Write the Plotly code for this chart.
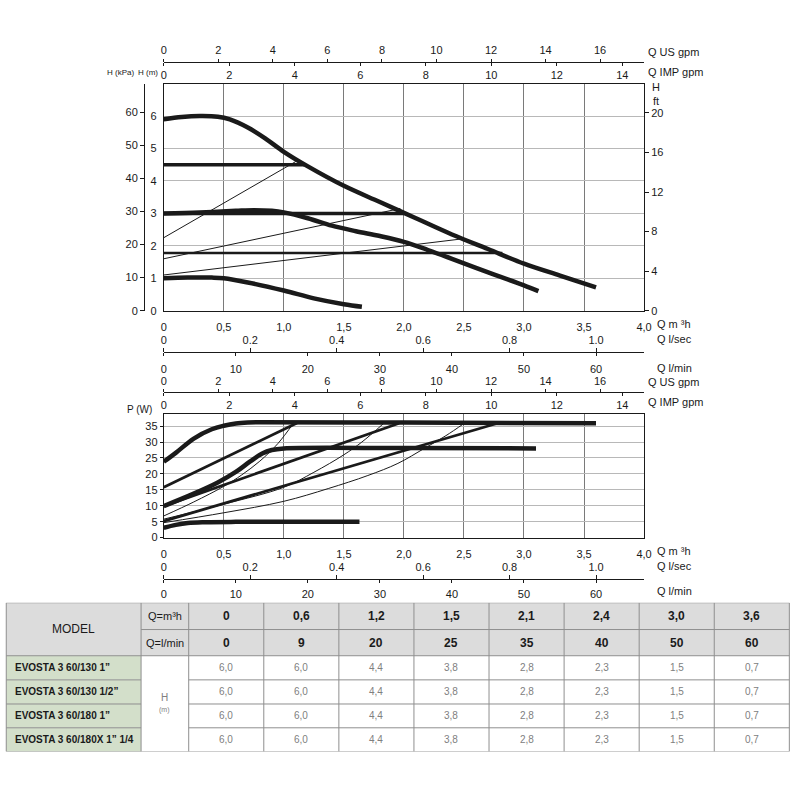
import plotly.graph_objects as go

# ---- data ----
# head curves, H (m) vs Q (m3/h)
Q_H_MAX = [0, 0.15, 0.3, 0.45, 0.55, 0.7, 0.85, 1.0, 1.2, 1.5, 1.8, 2.1, 2.4, 2.7, 3.0, 3.3, 3.6]
H_MAX = [5.9, 5.97, 6.0, 5.98, 5.9, 5.65, 5.3, 4.9, 4.45, 3.85, 3.35, 2.85, 2.35, 1.9, 1.45, 1.08, 0.72]
Q_H_MID = [0, 0.3, 0.6, 0.75, 0.9, 1.0, 1.2, 1.4, 1.6, 1.8, 2.0, 2.2, 2.4, 2.6, 2.8, 3.0, 3.12]
H_MID = [3.0, 3.03, 3.08, 3.1, 3.08, 3.03, 2.85, 2.62, 2.45, 2.3, 2.12, 1.87, 1.6, 1.32, 1.05, 0.78, 0.6]
Q_H_LOW = [0, 0.2, 0.4, 0.5, 0.7, 1.0, 1.25, 1.5, 1.65]
H_LOW = [1.0, 1.02, 1.02, 1.0, 0.87, 0.62, 0.38, 0.2, 0.12]

# constant pressure lines (H, end Q)
CP_H = [4.5, 3.0, 1.78]
CP_Q_END = [1.17, 2.0, 2.82]
CP_WIDTH = [3.5, 3.5, 2.5]
# proportional pressure lines (H at Q=0, end Q, end H)
PP_H0 = [2.25, 1.6, 1.1]
PP_Q_END = [1.1, 1.97, 2.5]
PP_H_END = [4.6, 3.15, 2.22]

# power curves, P (W) vs Q (m3/h)
Q_P_MAX = [0, 0.1, 0.25, 0.4, 0.5, 0.6, 0.7, 0.8, 2.0, 3.6]
P_MAX = [23.8, 26.6, 31.1, 34.0, 35.1, 35.8, 36.1, 36.2, 36.1, 35.9]
Q_P_MID = [0, 0.25, 0.45, 0.6, 0.72, 0.82, 0.9, 1.0, 2.0, 3.1]
P_MID = [9.9, 13.8, 17.3, 20.6, 23.9, 26.4, 27.5, 28.0, 28.1, 28.0]
Q_P_LOW = [0, 0.1, 0.2, 0.35, 0.6, 1.63]
P_LOW = [3.1, 4.0, 4.6, 4.85, 4.95, 4.95]
# constant pressure power lines (P at Q=0, end Q, end P)
CPP_P0 = [15.8, 9.9, 5.2]
CPP_Q_END = [1.11, 1.96, 2.78]
CPP_P_END = [36.0, 35.9, 35.9]
# proportional pressure power curves
Q_PP1 = [0, 0.25, 0.5, 0.65, 0.8, 0.95, 1.08]
P_PP1 = [6.8, 11.2, 16.1, 19.7, 24.0, 29.5, 35.9]
Q_PP2 = [0, 0.5, 1.0, 1.25, 1.5, 1.65, 1.83]
P_PP2 = [5.8, 10.5, 15.8, 20.5, 26.0, 30.0, 35.8]
Q_PP3 = [0, 0.5, 1.0, 1.37, 1.7, 1.95, 2.17, 2.35, 2.5]
P_PP3 = [4.7, 7.8, 11.4, 15.4, 19.5, 23.3, 28.0, 32.0, 35.8]

# axis ticks
Q_TICKS = [0, 0.5, 1.0, 1.5, 2.0, 2.5, 3.0, 3.5, 4.0]
Q_LABELS = ["0", "0,5", "1,0", "1,5", "2,0", "2,5", "3,0", "3,5", "4,0"]
US_TICKS = [0, 2, 4, 6, 8, 10, 12, 14, 16]
IMP_TICKS = [0, 2, 4, 6, 8, 10, 12, 14]
LS_TICKS = [0, 0.2, 0.4, 0.6, 0.8, 1.0]
LS_LABELS = ["0", "0.2", "0.4", "0.6", "0.8", "1.0"]
LMIN_TICKS = [0, 10, 20, 30, 40, 50, 60]
H_TICKS = [0, 1, 2, 3, 4, 5, 6]
KPA_TICKS = [0, 10, 20, 30, 40, 50, 60]
FT_TICKS = [0, 4, 8, 12, 16, 20]
P_TICKS = [0, 5, 10, 15, 20, 25, 30, 35]

# table
TBL_Q_M3H = ["0", "0,6", "1,2", "1,5", "2,1", "2,4", "3,0", "3,6"]
TBL_Q_LMIN = ["0", "9", "20", "25", "35", "40", "50", "60"]
TBL_MODELS = ["EVOSTA 3 60/130 1\u201d", "EVOSTA 3 60/130 1/2\u201d",
              "EVOSTA 3 60/180 1\u201d", "EVOSTA 3 60/180X 1\u201d 1/4"]
TBL_H = [
    ["6,0", "6,0", "4,4", "3,8", "2,8", "2,3", "1,5", "0,7"],
    ["6,0", "6,0", "4,4", "3,8", "2,8", "2,3", "1,5", "0,7"],
    ["6,0", "6,0", "4,4", "3,8", "2,8", "2,3", "1,5", "0,7"],
    ["6,0", "6,0", "4,4", "3,8", "2,8", "2,3", "1,5", "0,7"],
]

# unit conversions from m3/h
US_GPM = 4.4029
IMP_GPM = 3.6662
L_SEC = 1 / 3.6
L_MIN = 1000 / 60
KPA = 9.81
FT = 3.2808

# ---- style / layout ----
W = H = 800
FONT = "Liberation Sans, Arial, sans-serif"
INK = "#1a1a1a"
GRID_V = "#7a7a7a"
GRID_H = "#b8b8b8"
X_LEFT, X_RIGHT = 163, 650
TOP_Y0, TOP_Y1 = 84.3, 313        # pixel rows of top chart plot area
BOT_Y0, BOT_Y1 = 417.3, 541.7     # pixel rows of bottom chart plot area
H_RANGE = 7.0
P_RANGE = 38.74
Q_RANGE = 4.0


def px(x):
    return x / W


def py(y):
    return 1 - y / H


def overlay_x(over, pos_y, side, rng, tickvals, ticktext=None, ticklen=4, standoff=0):
    d = dict(overlaying=over, anchor="free", position=py(pos_y), side=side,
             range=rng, tickvals=tickvals, ticks="outside", ticklen=ticklen,
             tickcolor=INK, showline=True, linecolor=INK, linewidth=1,
             showgrid=False, zeroline=False, ticklabelstandoff=standoff,
             tickfont=dict(family=FONT, size=11, color=INK))
    if ticktext is not None:
        d["ticktext"] = ticktext
    return d


fig = go.Figure()


def line(x, y, width, xa="x", ya="y", shape="spline"):
    fig.add_trace(go.Scatter(x=x, y=y, mode="lines", xaxis=xa, yaxis=ya,
                             line=dict(color=INK, width=width, shape=shape),
                             hoverinfo="skip", showlegend=False))


# top chart: head
for i in range(3):
    line([0, PP_Q_END[i]], [PP_H0[i], PP_H_END[i]], 1, shape="linear")
for i in range(3):
    line([0, CP_Q_END[i]], [CP_H[i], CP_H[i]], CP_WIDTH[i], shape="linear")
line(Q_H_MAX, H_MAX, 4.5)
line(Q_H_MID, H_MID, 4.5)
line(Q_H_LOW, H_LOW, 4.5)

# bottom chart: power
line(Q_PP1, P_PP1, 1, "x2", "y2")
line(Q_PP2, P_PP2, 1, "x2", "y2")
line(Q_PP3, P_PP3, 1, "x2", "y2")
for i in range(3):
    line([0, CPP_Q_END[i]], [CPP_P0[i], CPP_P_END[i]], 2.8, "x2", "y2", shape="linear")
line(Q_P_MAX, P_MAX, 4.5, "x2", "y2")
line(Q_P_MID, P_MID, 4.5, "x2", "y2")
line(Q_P_LOW, P_LOW, 4.5, "x2", "y2")

# empty traces so every extra axis gets drawn
for xa, ya in [("x3", "y"), ("x4", "y"), ("x5", "y"), ("x6", "y"), ("x", "y3"), ("x", "y4"),
               ("x7", "y2"), ("x8", "y2"), ("x9", "y2"), ("x10", "y2")]:
    fig.add_trace(go.Scatter(x=[None], y=[None], xaxis=xa, yaxis=ya, showlegend=False,
                             hoverinfo="skip"))

x_dom = [px(X_LEFT), px(X_RIGHT)]
main_x = dict(domain=x_dom, range=[0, Q_RANGE], tickvals=Q_TICKS, ticktext=Q_LABELS,
              ticks="", showgrid=True, gridcolor=GRID_V, gridwidth=1, zeroline=False,
              showline=True, linecolor=INK, linewidth=1, mirror=True,
              ticklabelstandoff=6, tickfont=dict(family=FONT, size=11, color=INK))

fig.update_layout(
    width=W, height=H, margin=dict(l=0, r=0, t=0, b=0),
    paper_bgcolor="white", plot_bgcolor="rgba(0,0,0,0)", hovermode=False,
    font=dict(family=FONT, size=11, color=INK),
    xaxis=dict(main_x, anchor="y"),
    yaxis=dict(domain=[py(TOP_Y1), py(TOP_Y0)], range=[0, H_RANGE], tickvals=H_TICKS,
               ticks="", showgrid=True, gridcolor=GRID_H, zeroline=False,
               showline=True, linecolor=INK, mirror=True, anchor="x",
               ticklabelstandoff=4, tickfont=dict(family=FONT, size=11, color=INK)),
    xaxis2=dict(main_x, anchor="y2"),
    yaxis2=dict(domain=[py(BOT_Y1), py(BOT_Y0)], range=[0, P_RANGE], tickvals=P_TICKS,
                ticks="outside", ticklen=3, tickcolor=INK, showgrid=True, gridcolor=GRID_H,
                zeroline=False, showline=True, linecolor=INK, mirror=True, anchor="x2",
                tickfont=dict(family=FONT, size=11, color=INK)),
    xaxis3=overlay_x("x", 62.3, "top", [0, Q_RANGE * US_GPM], US_TICKS, ticklen=3),
    xaxis4=overlay_x("x", 62.3, "bottom", [0, Q_RANGE * IMP_GPM], IMP_TICKS, ticklen=3),
    xaxis5=overlay_x("x", TOP_Y1 + 42, "top", [0, Q_RANGE * L_SEC], LS_TICKS, LS_LABELS),
    xaxis6=overlay_x("x", TOP_Y1 + 42, "bottom", [0, Q_RANGE * L_MIN], LMIN_TICKS,
                     ticklen=3, standoff=3),
    xaxis7=overlay_x("x2", 395, "top", [0, Q_RANGE * US_GPM], US_TICKS, ticklen=3),
    xaxis8=overlay_x("x2", 395, "bottom", [0, Q_RANGE * IMP_GPM], IMP_TICKS, ticklen=3),
    xaxis9=overlay_x("x2", BOT_Y1 + 42, "top", [0, Q_RANGE * L_SEC], LS_TICKS, LS_LABELS),
    xaxis10=overlay_x("x2", BOT_Y1 + 42, "bottom", [0, Q_RANGE * L_MIN], LMIN_TICKS,
                      ticklen=3, standoff=1),
    yaxis3=dict(overlaying="y", anchor="free", position=px(143), side="left",
                range=[0, H_RANGE * KPA], tickvals=KPA_TICKS, ticks="outside", ticklen=4,
                tickcolor=INK, showline=True, linecolor=INK, showgrid=False, zeroline=False,
                tickfont=dict(family=FONT, size=11, color=INK)),
    yaxis4=dict(overlaying="y", anchor="x", side="right",
                range=[0, H_RANGE * FT], tickvals=FT_TICKS, ticks="outside", ticklen=4,
                tickcolor=INK, showline=True, linecolor=INK, showgrid=False, zeroline=False,
                tickfont=dict(family=FONT, size=11, color=INK)),
    # table area, in pixel units
    xaxis11=dict(domain=[0, 1], range=[0, W], visible=False, anchor="y11", fixedrange=True),
    yaxis11=dict(domain=[py(757.3), py(607.3)], range=[150, 0], visible=False, anchor="x11",
                 fixedrange=True),
)


# axis captions
def caption(x, y, text, size=11, xanchor="left"):
    fig.add_annotation(x=px(x), y=py(y), xref="paper", yref="paper", text=text,
                       showarrow=False, xanchor=xanchor, yanchor="middle",
                       font=dict(family=FONT, size=size, color=INK))


for axis_line, bottom, lmin_gap in [(62.3, TOP_Y1, 58), (395, BOT_Y1, 54)]:
    caption(652, axis_line - 10, "Q US gpm")
    caption(652, axis_line + 10, "Q IMP gpm")
    caption(661, bottom + 13, "Q m \u00b3h")
    caption(661, bottom + 29, "Q l/sec")
    caption(661, bottom + lmin_gap, "Q l/min")
caption(119, 73, "H (kPa)", 8, "center")
caption(147, 73, "H (m)", 8, "center")
caption(662, 88, "H", 11, "center")
caption(662, 102, "ft", 11, "center")
caption(138, 413, "P (W)", 10, "center")

# ---- table ----
TBL_X = [3.3, 140, 188.3] + [188.3 + 76.125 * (i + 1) for i in range(len(TBL_Q_M3H))]
TBL_Y = [0, 27, 53.4, 77.7, 102, 126, 150]
BORDER = "#8f8f8f"
HEAD_BG = "#dcdcdc"
MODEL_BG = "#d3dfca"


def rect(x0, y0, x1, y1, fill=None, lw=0):
    fig.add_shape(type="rect", xref="x11", yref="y11", x0=x0, y0=y0, x1=x1, y1=y1,
                  fillcolor=fill, line=dict(color=BORDER, width=lw), layer="below")


def seg(x0, y0, x1, y1):
    fig.add_shape(type="line", xref="x11", yref="y11", x0=x0, y0=y0, x1=x1, y1=y1,
                  line=dict(color=BORDER, width=1))


def cell_text(x, y, text, size, color=INK, bold=False, xanchor="center"):
    fig.add_annotation(x=x, y=y, xref="x11", yref="y11", showarrow=False,
                       text=f"<b>{text}</b>" if bold else text, xanchor=xanchor,
                       font=dict(family=FONT, size=size, color=color))


rect(TBL_X[0], TBL_Y[0], TBL_X[-1], TBL_Y[2], HEAD_BG)
for r in range(len(TBL_MODELS)):
    rect(TBL_X[0], TBL_Y[r + 2], TBL_X[1], TBL_Y[r + 3], MODEL_BG)

# grid of the table
for xv in TBL_X:
    seg(xv, TBL_Y[0], xv, TBL_Y[-1])
seg(TBL_X[0], TBL_Y[0], TBL_X[-1], TBL_Y[0])
seg(TBL_X[1], TBL_Y[1], TBL_X[-1], TBL_Y[1])
seg(TBL_X[0], TBL_Y[2], TBL_X[-1], TBL_Y[2])
for yv in TBL_Y[3:-1]:
    seg(TBL_X[0], yv, TBL_X[1], yv)
    seg(TBL_X[2], yv, TBL_X[-1], yv)
seg(TBL_X[0], TBL_Y[-1], TBL_X[-1], TBL_Y[-1])

cell_text((TBL_X[0] + TBL_X[1]) / 2, (TBL_Y[0] + TBL_Y[2]) / 2, "MODEL", 12)
cell_text((TBL_X[1] + TBL_X[2]) / 2, (TBL_Y[0] + TBL_Y[1]) / 2, "Q=m\u00b3h", 11)
cell_text((TBL_X[1] + TBL_X[2]) / 2, (TBL_Y[1] + TBL_Y[2]) / 2, "Q=l/min", 11)
for c in range(len(TBL_Q_M3H)):
    xc = (TBL_X[c + 2] + TBL_X[c + 3]) / 2
    cell_text(xc, (TBL_Y[0] + TBL_Y[1]) / 2, TBL_Q_M3H[c], 12, bold=True)
    cell_text(xc, (TBL_Y[1] + TBL_Y[2]) / 2, TBL_Q_LMIN[c], 12, bold=True)
for r in range(len(TBL_MODELS)):
    yc = (TBL_Y[r + 2] + TBL_Y[r + 3]) / 2
    cell_text(TBL_X[0] + 7, yc, TBL_MODELS[r], 10, bold=True, xanchor="left")
    for c in range(len(TBL_Q_M3H)):
        xc = (TBL_X[c + 2] + TBL_X[c + 3]) / 2
        cell_text(xc, yc, TBL_H[r][c], 10, color="#808080")
cell_text((TBL_X[1] + TBL_X[2]) / 2, 95, "H", 10, color="#808080")
cell_text((TBL_X[1] + TBL_X[2]) / 2, 108, "(m)", 7, color="#808080")

fig.write_html("out.html", config={"displayModeBar": False},
               post_script="document.body.style.margin='0';")
